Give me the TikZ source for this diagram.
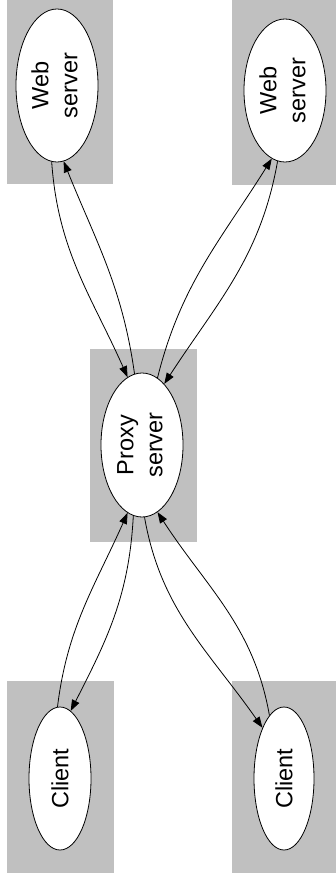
\documentclass[tikz,border=0pt]{standalone}
\usepackage{fontspec}
\setmainfont{Liberation Sans}
\usepackage{graphicx}
\usetikzlibrary{arrows.meta,shapes.geometric}

\definecolor{clusterfill}{RGB}{192,192,192}

\tikzset{
  x=1pt, y=1pt,
  cluster/.style={fill=clusterfill, draw=none},
  hostnode/.style={ellipse, draw=black, fill=white, line width=0.8pt,
    inner sep=0pt, font=\fontsize{23.5}{29}\selectfont},
  link/.style={draw=black, line width=0.8pt,
    -{Triangle[length=11pt,width=8pt]}},
}

% two-line label, set upright then turned to read bottom to top
\newcommand{\turnedlabel}[2]{\rotatebox{90}{\begin{tabular}{@{}c@{}}#1\\#2\end{tabular}}}

\begin{document}
\begin{tikzpicture}
  \useasboundingbox (0,0) rectangle (336,-885);

  % grey cluster backgrounds
  \fill[cluster] (7,8) rectangle (113,-184);
  \fill[cluster] (232,8) rectangle (340,-185);
  \fill[cluster] (90,-349) rectangle (197,-542);
  \fill[cluster] (7,-681) rectangle (114,-873);
  \fill[cluster] (232,-681) rectangle (340,-873);

  % hosts
  \node[hostnode, minimum width=65pt, minimum height=153pt] (wl) at (57,-85.5)
    {\turnedlabel{Web}{server}};
  \node[hostnode, minimum width=58pt, minimum height=143pt] (wr) at (285,-90.5)
    {\turnedlabel{Web}{server}};
  \node[hostnode, minimum width=60pt, minimum height=144pt] (px) at (142,-445)
    {\turnedlabel{Proxy}{server}};
  \node[hostnode, minimum width=62pt, minimum height=143pt] (cl) at (60,-778.5)
    {\rotatebox{90}{Client}};
  \node[hostnode, minimum width=60pt, minimum height=143pt] (cr) at (284,-778.5)
    {\rotatebox{90}{Client}};

  % requests and responses between web servers and proxy
  \draw[link] (wl.-94) to[out=-86, in=114] (px.102);
  \draw[link] (px.96) to[out=98, in=-68] (wl.-85);
  \draw[link] (px.77) to[out=76, in=-122] (wr.-101);
  \draw[link] (wr.-96) to[out=-100, in=57] (px.70);

  % requests and responses between clients and proxy
  \draw[link] (cl.92) to[out=83, in=-114] (px.-102);
  \draw[link] (px.-97) to[out=-93, in=63] (cl.81);
  \draw[link] (px.-88) to[out=-80, in=125] (cr.113);
  \draw[link] (cr.103) to[out=100, in=-57] (px.-77);
\end{tikzpicture}
\end{document}
